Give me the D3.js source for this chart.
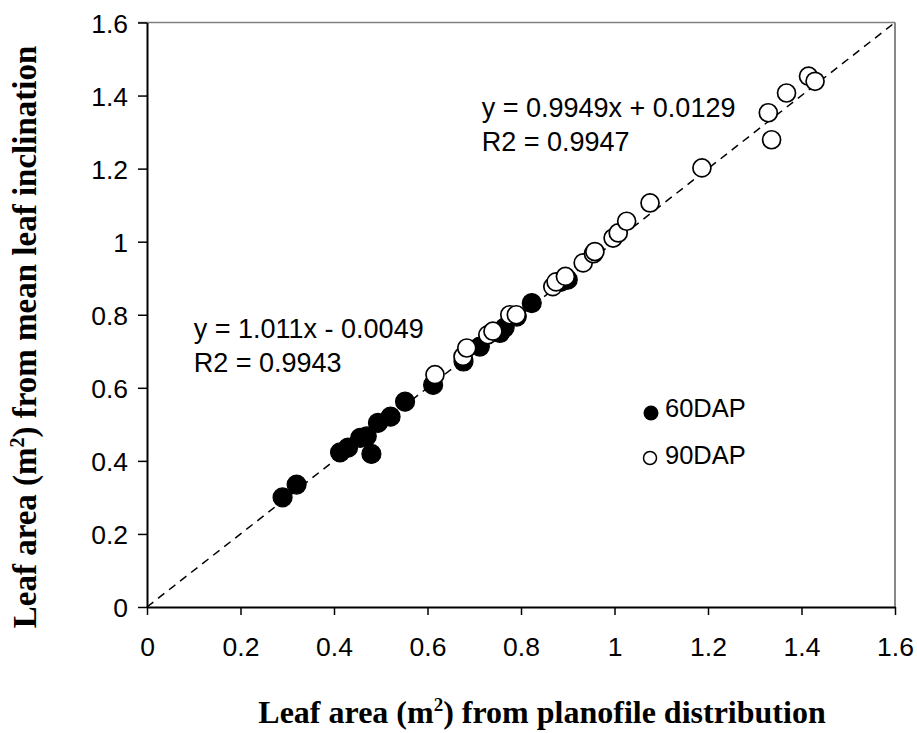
<!DOCTYPE html>
<html>
<head>
<meta charset="utf-8">
<script src="https://cdn.jsdelivr.net/npm/d3@7"></script>
<style>
  html, body { margin: 0; padding: 0; background: #fff; }
  svg { display: block; }
</style>
</head>
<body>
<svg id="chart" width="917" height="733"></svg>
<script>
// ---- data ----
const ticks = [0, 0.2, 0.4, 0.6, 0.8, 1, 1.2, 1.4, 1.6];
const tickLabels = ["0", "0.2", "0.4", "0.6", "0.8", "1", "1.2", "1.4", "1.6"];

const x60 = [0.29, 0.32, 0.413, 0.43, 0.456, 0.47, 0.48, 0.494, 0.521, 0.552, 0.612, 0.677, 0.712, 0.755, 0.765, 0.791, 0.823, 0.885, 0.90];
const y60 = [0.30, 0.335, 0.423, 0.436, 0.463, 0.467, 0.419, 0.504, 0.521, 0.562, 0.608, 0.672, 0.713, 0.750, 0.765, 0.795, 0.832, 0.89, 0.896];

const x90 = [0.616, 0.676, 0.684, 0.729, 0.74, 0.776, 0.79, 0.868, 0.875, 0.895, 0.933, 0.955, 0.958, 0.997, 1.008, 1.026, 1.076, 1.187, 1.329, 1.336, 1.368, 1.415, 1.429];
const y90 = [0.636, 0.686, 0.709, 0.745, 0.755, 0.80, 0.80, 0.877, 0.89, 0.905, 0.942, 0.967, 0.973, 1.010, 1.024, 1.056, 1.106, 1.202, 1.353, 1.279, 1.407, 1.453, 1.439];

const seriesNames = ["60DAP", "90DAP"];
const eqTexts = [["y = 0.9949x + 0.0129", "R2 = 0.9947"], ["y = 1.011x - 0.0049", "R2 = 0.9943"]];
const eqAnchors = [[0.716, 1.34], [0.1, 0.735]]; // data coords of annotation starts

// ---- layout ----
const svg = d3.select("#chart");
const L = 147, R = 895, T = 22.5, B = 607;
const x = d3.scaleLinear().domain([0, 1.6]).range([L, R]);
const y = d3.scaleLinear().domain([0, 1.6]).range([B, T]);
const sans = "Liberation Sans, Arial, sans-serif";
const serif = "Liberation Serif, Times New Roman, serif";

// plot border (top and right, grey)
svg.append("line").attr("x1", L - 9).attr("x2", R).attr("y1", T).attr("y2", T)
  .attr("stroke", "#808080").attr("stroke-width", 1.5);
svg.append("line").attr("x1", R).attr("x2", R).attr("y1", T).attr("y2", B)
  .attr("stroke", "#606060").attr("stroke-width", 1.5);

// 1:1 dashed line
svg.append("line")
  .attr("x1", x(0)).attr("y1", y(0)).attr("x2", x(1.6)).attr("y2", y(1.6))
  .attr("stroke", "#000").attr("stroke-width", 1.5).attr("stroke-dasharray", "8,6");

// axes
const xAxis = d3.axisBottom(x).tickValues(ticks).tickFormat((d, i) => tickLabels[i]).tickSize(8).tickSizeOuter(0);
const yAxis = d3.axisLeft(y).tickValues(ticks).tickFormat((d, i) => tickLabels[i]).tickSize(9).tickSizeOuter(0);

const gx = svg.append("g").attr("transform", `translate(0,${B})`).call(xAxis);
const gy = svg.append("g").attr("transform", `translate(${L},0)`).call(yAxis);
[gx, gy].forEach(g => {
  g.select(".domain").attr("stroke", "#000").attr("stroke-width", 2);
  g.selectAll(".tick line").attr("stroke", "#000").attr("stroke-width", 1.5);
  g.selectAll(".tick text").attr("fill", "#000").attr("font-family", sans).attr("font-size", 26.5);
});
gx.selectAll(".tick text").attr("dy", null).attr("y", 49);
gy.selectAll(".tick text").attr("x", -19).attr("dy", "0.36em");

// points: 60DAP filled, then 90DAP open on top
const d60 = x60.map((v, i) => [v, y60[i]]);
const d90 = x90.map((v, i) => [v, y90[i]]);
svg.append("g").selectAll("circle").data(d60).join("circle")
  .attr("cx", d => x(d[0])).attr("cy", d => y(d[1])).attr("r", 9.5)
  .attr("fill", "#000").attr("stroke", "#000").attr("stroke-width", 1.2);
svg.append("g").selectAll("circle").data(d90).join("circle")
  .attr("cx", d => x(d[0])).attr("cy", d => y(d[1])).attr("r", 9)
  .attr("fill", "#fff").attr("stroke", "#000").attr("stroke-width", 1.7);

// equations
eqTexts.forEach((lines, k) => {
  lines.forEach((t, j) => {
    svg.append("text").attr("x", x(eqAnchors[k][0])).attr("y", y(eqAnchors[k][1]) + j * 34)
      .attr("font-family", sans).attr("font-size", 27).attr("fill", "#000").text(t);
  });
});

// legend
const lg = svg.append("g");
lg.append("circle").attr("cx", 651).attr("cy", 413).attr("r", 7.5).attr("fill", "#000");
lg.append("circle").attr("cx", 650).attr("cy", 458).attr("r", 6.5).attr("fill", "#fff").attr("stroke", "#000").attr("stroke-width", 1.5);
lg.append("text").attr("x", 665).attr("y", 417).attr("font-family", sans).attr("font-size", 25.5).text(seriesNames[0]);
lg.append("text").attr("x", 665).attr("y", 464).attr("font-family", sans).attr("font-size", 25.5).text(seriesNames[1]);

// axis titles
const xt = svg.append("text").attr("x", 542).attr("y", 723).attr("text-anchor", "middle")
  .attr("font-family", serif).attr("font-weight", "bold").attr("font-size", 32).attr("fill", "#000");
xt.append("tspan").text("Leaf area (m");
xt.append("tspan").attr("dy", -12).attr("font-size", 19).text("2");
xt.append("tspan").attr("dy", 12).text(") from planofile distribution");

const yt = svg.append("text").attr("transform", "translate(36,337) rotate(-90)").attr("text-anchor", "middle")
  .attr("font-family", serif).attr("font-weight", "bold").attr("font-size", 33).attr("fill", "#000");
yt.append("tspan").text("Leaf area (m");
yt.append("tspan").attr("dy", -12).attr("font-size", 20).text("2");
yt.append("tspan").attr("dy", 12).text(") from mean leaf inclination");
</script>
</body>
</html>
